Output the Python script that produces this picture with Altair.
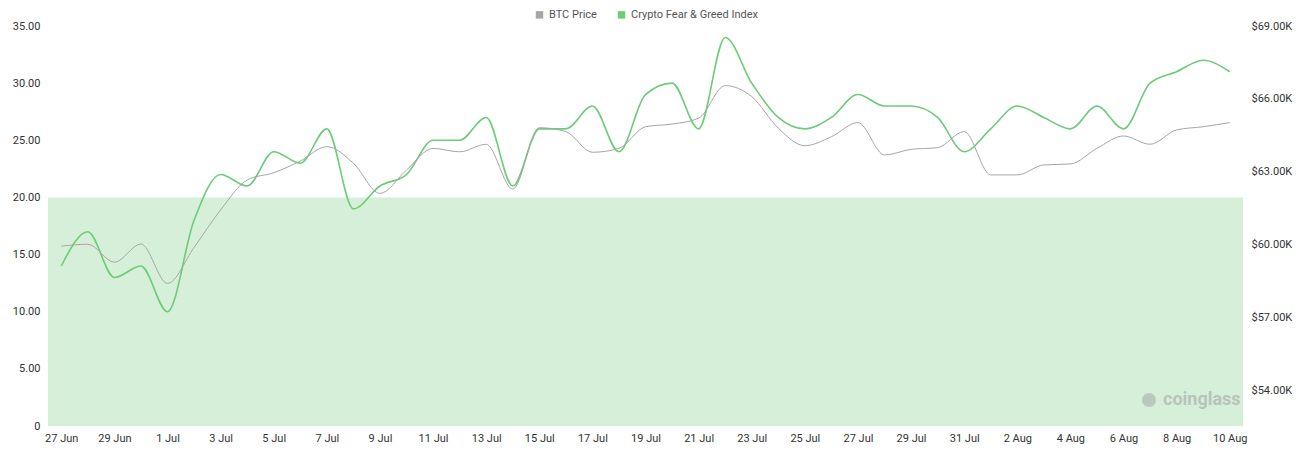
import pandas as pd
import altair as alt

# Tage 27 Jun .. 10 Aug
dates = pd.date_range("2023-06-27", "2023-08-10").strftime("%-d %b").tolist()

fear_greed = [14, 17, 13, 14, 10, 18, 22, 21, 24, 23,
              26, 19, 21, 22, 25, 25, 27, 21, 26, 26,
              28, 24, 29, 30, 26, 34, 30, 27, 26, 27,
              29, 28, 28, 27, 24, 26, 28, 27, 26, 28,
              26, 30, 31, 32, 31]

btc_price = [59950, 60030, 59290, 60040, 58420, 59900, 61440, 62670, 62970, 63450,
             64040, 63360, 62120, 63080, 63970, 63830, 64140, 62300, 64820, 64660,
             63810, 63970, 64860, 64970, 65210, 66550, 66100, 64800, 64080, 64450,
             65030, 63700, 63930, 64000, 64660, 62880, 62880, 63290, 63330, 63970,
             64480, 64140, 64730, 64860, 65030]

series_names = ["BTC Price", "Crypto Fear & Greed Index"]
series_colors = ["#a6a6a6", "#6ccc78"]

left_ticks = [0, 5, 10, 15, 20, 25, 30, 35]
right_ticks = [54000, 57000, 60000, 63000, 66000, 69000]
x_ticks = dates[::2]

fg_df = pd.DataFrame({"date": dates, "value": fear_greed, "series": series_names[1]})
btc_df = pd.DataFrame({"date": dates, "value": btc_price, "series": series_names[0]})
band_df = pd.DataFrame({"lo": [0], "hi": [20]})

font = "Roboto"

x_enc = alt.X("date:O", sort=dates, title=None,
              scale=alt.Scale(type="point", padding=0.5),
              axis=alt.Axis(values=x_ticks, labelAngle=0, domain=False, ticks=False,
                            grid=False, labelPadding=6, labelFontSize=11,
                            labelColor="#333", labelFont=font))

# kleine Quadrate in der Legende: dicker Rand um ein winziges Symbol
color_enc = alt.Color("series:N",
                      scale=alt.Scale(domain=series_names, range=series_colors),
                      legend=alt.Legend(title=None, orient="none", direction="horizontal",
                                        legendX=486, legendY=-17, symbolType="square",
                                        symbolSize=12, symbolStrokeWidth=4,
                                        labelFontSize=11, labelColor="#555",
                                        labelFont=font, columnPadding=14))

band = alt.Chart(band_df).mark_rect(color="#43b650", opacity=0.22).encode(
    x=alt.value(0),
    x2=alt.value("width"),
    y=alt.Y("lo:Q", scale=alt.Scale(domain=[0, 35]), axis=None),
    y2="hi:Q",
)

green = alt.Chart(fg_df).mark_line(interpolate="monotone", strokeWidth=1.6).encode(
    x=x_enc,
    y=alt.Y("value:Q", title=None, scale=alt.Scale(domain=[0, 35], nice=False, zero=False),
            axis=alt.Axis(orient="left", values=left_ticks,
                          labelExpr="datum.value == 0 ? '0' : format(datum.value, '.2f')",
                          domain=False, ticks=False, labelPadding=8, labelFontSize=11,
                          labelColor="#333", labelFont=font,
                          gridColor="#e6e6e6", gridDash=[4, 4])),
    color=color_enc,
)

gray = alt.Chart(btc_df).mark_line(interpolate="monotone", strokeWidth=1).encode(
    x=x_enc,
    y=alt.Y("value:Q", title=None, scale=alt.Scale(domain=[52560, 69000], nice=False, zero=False),
            axis=alt.Axis(orient="right", values=right_ticks,
                          labelExpr="'$' + format(datum.value / 1000, '.2f') + 'K'",
                          domain=False, ticks=False, labelPadding=8, labelFontSize=11,
                          labelColor="#333", labelFont=font,
                          gridColor="#e6e6e6", gridDash=[4, 4])),
    color=color_enc,
)

watermark = alt.Chart(band_df).mark_text(
    text="coinglass", font=font, fontSize=18, fontWeight="bold",
    color="#9a9a9a", opacity=0.5, align="left", baseline="middle",
).encode(x=alt.value(1115), y=alt.value(374))

logo = alt.Chart(band_df).mark_point(
    shape="circle", filled=True, size=200, color="#9a9a9a", opacity=0.45,
).encode(x=alt.value(1101), y=alt.value(374))

chart = alt.layer(band, green, gray, watermark, logo).resolve_scale(y="independent").properties(
    width=1195,
    height=400,
    autosize=alt.AutoSizeParams(type="none"),
    padding={"left": 40, "top": 18, "right": 52, "bottom": 26},
).configure_view(stroke=None)

chart.save("out.html", embed_options={"renderer": "svg", "actions": False})
